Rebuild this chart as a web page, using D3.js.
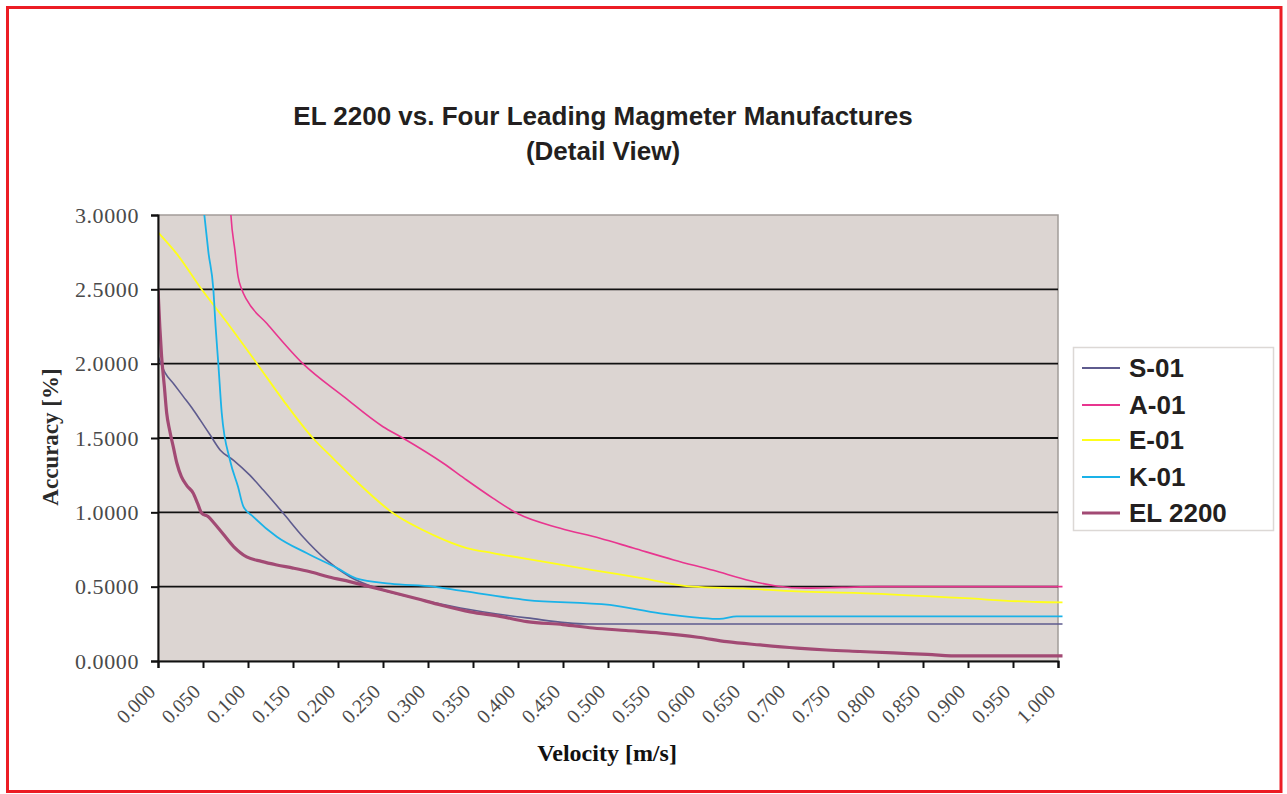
<!DOCTYPE html>
<html>
<head>
<meta charset="utf-8">
<script src="https://cdn.jsdelivr.net/npm/d3@7/dist/d3.min.js"></script>
<style>
  html, body { margin: 0; padding: 0; background: #fff; }
  svg { display: block; }
</style>
</head>
<body>
<svg id="chart" width="1287" height="794"></svg>
<script>
// ---- Data ----
const title = ["EL 2200 vs. Four Leading Magmeter Manufactures", "(Detail View)"];
const seriesNames = ["S-01", "A-01", "E-01", "K-01", "EL 2200"];
const xTicks = [0.000,0.050,0.100,0.150,0.200,0.250,0.300,0.350,0.400,0.450,0.500,0.550,0.600,0.650,0.700,0.750,0.800,0.850,0.900,0.950,1.000];
const yTicks = [0.0, 0.5, 1.0, 1.5, 2.0, 2.5, 3.0];

const S01 = [[0,2.05],[0.0078,1.94],[0.018,1.86],[0.028,1.78],[0.038,1.70],[0.047,1.62],[0.058,1.52],[0.069,1.42],[0.084,1.35],[0.102,1.25],[0.117,1.15],[0.139,0.995],[0.161,0.836],[0.187,0.68],[0.213,0.567],[0.243,0.49],[0.28,0.43],[0.336,0.356],[0.41,0.29],[0.476,0.249],[0.6,0.249],[1.005,0.249]];
const A01 = [[0.0805,3.05],[0.081,3.0],[0.0855,2.76],[0.089,2.585],[0.093,2.5],[0.0985,2.43],[0.121,2.27],[0.161,2.0],[0.206,1.78],[0.25,1.576],[0.272,1.5],[0.317,1.33],[0.34,1.23],[0.372,1.096],[0.4,0.99],[0.447,0.893],[0.491,0.826],[0.528,0.76],[0.573,0.68],[0.617,0.61],[0.658,0.54],[0.687,0.505],[0.72,0.49],[0.76,0.495],[0.8,0.50],[1.005,0.50]];
const E01 = [[0,2.883],[0.0207,2.74],[0.0485,2.5],[0.08,2.25],[0.11,2.0],[0.139,1.755],[0.172,1.5],[0.195,1.36],[0.221,1.205],[0.261,0.995],[0.306,0.847],[0.343,0.76],[0.372,0.726],[0.428,0.668],[0.483,0.612],[0.539,0.556],[0.594,0.50],[0.65,0.488],[0.71,0.468],[0.78,0.457],[0.891,0.424],[0.977,0.397],[1.005,0.395]];
const K01 = [[0.0505,3.05],[0.0515,3.0],[0.056,2.75],[0.0615,2.5],[0.064,2.25],[0.067,2.0],[0.0708,1.67],[0.08,1.35],[0.089,1.17],[0.0948,1.04],[0.106,0.97],[0.132,0.836],[0.165,0.726],[0.199,0.625],[0.22,0.556],[0.258,0.52],[0.306,0.50],[0.336,0.473],[0.41,0.41],[0.502,0.377],[0.558,0.32],[0.602,0.29],[0.624,0.283],[0.643,0.30],[1.005,0.30]];
const EL2200 = [[0,2.5],[0.002,2.25],[0.004,2.05],[0.007,1.85],[0.0096,1.67],[0.013,1.55],[0.017,1.44],[0.021,1.33],[0.026,1.24],[0.032,1.18],[0.039,1.13],[0.044,1.06],[0.0485,0.995],[0.056,0.97],[0.062,0.93],[0.069,0.88],[0.084,0.77],[0.0985,0.70],[0.115,0.67],[0.132,0.646],[0.150,0.625],[0.169,0.60],[0.19,0.565],[0.213,0.534],[0.25,0.478],[0.287,0.42],[0.315,0.375],[0.347,0.33],[0.38,0.30],[0.41,0.265],[0.45,0.245],[0.483,0.222],[0.52,0.205],[0.558,0.188],[0.6,0.16],[0.632,0.13],[0.669,0.108],[0.71,0.087],[0.743,0.074],[0.78,0.064],[0.817,0.054],[0.855,0.044],[0.891,0.034],[0.95,0.034],[1.005,0.034]];

const seriesData = [S01, A01, E01, K01, EL2200];
const seriesColors = ["#5e5b8e", "#e8358f", "#ffff1a", "#1ab2e8", "#a24a74"];
const seriesWidths = [1.6, 1.6, 1.8, 1.8, 3.2];

// ---- Layout ----
const svg = d3.select("#chart");
const plot = { left: 158, right: 1058, top: 215, bottom: 661 };

const x = d3.scaleLinear().domain([0, 1]).range([plot.left, plot.right]);
const y = d3.scaleLinear().domain([0, 3]).range([plot.bottom, plot.top]);

// red frame
svg.append("rect").attr("x", 7.5).attr("y", 7.5).attr("width", 1273.5).attr("height", 784)
  .attr("fill", "#fff").attr("stroke", "#ec1c24").attr("stroke-width", 3);

// title
svg.append("text").attr("x", 603).attr("y", 125).attr("text-anchor", "middle")
  .attr("font-family", "Liberation Sans, Arial, sans-serif").attr("font-weight", "bold")
  .attr("font-size", 26).attr("fill", "#231f20").text(title[0]);
svg.append("text").attr("x", 603).attr("y", 160).attr("text-anchor", "middle")
  .attr("font-family", "Liberation Sans, Arial, sans-serif").attr("font-weight", "bold")
  .attr("font-size", 26).attr("fill", "#231f20").text(title[1]);

// plot background
svg.append("rect").attr("x", plot.left).attr("y", plot.top)
  .attr("width", plot.right - plot.left).attr("height", plot.bottom - plot.top)
  .attr("fill", "#dcd5d2").attr("stroke", "#a29c99").attr("stroke-width", 1.5);

// gridlines
svg.append("g").selectAll("line").data(yTicks.filter(d => d > 0 && d < 3)).join("line")
  .attr("x1", plot.left).attr("x2", plot.right)
  .attr("y1", d => y(d)).attr("y2", d => y(d))
  .attr("stroke", "#111").attr("stroke-width", 1.8);

// clip
svg.append("clipPath").attr("id", "clip").append("rect")
  .attr("x", plot.left).attr("y", plot.top)
  .attr("width", plot.right - plot.left + 6).attr("height", plot.bottom - plot.top + 4);

// series
const line = d3.line().x(d => x(d[0])).y(d => y(d[1])).curve(d3.curveMonotoneX);
const gLines = svg.append("g").attr("clip-path", "url(#clip)");
seriesData.forEach((data, i) => {
  gLines.append("path").datum(data).attr("d", line)
    .attr("fill", "none").attr("stroke", seriesColors[i])
    .attr("stroke-width", seriesWidths[i]).attr("stroke-linejoin", "round");
});

// axes
const yAxis = d3.axisLeft(y).tickValues(yTicks).tickFormat(d3.format(".4f")).tickSize(7).tickPadding(12);
const gy = svg.append("g").attr("transform", `translate(${plot.left},0)`).call(yAxis);
gy.select(".domain").attr("stroke", "#111").attr("stroke-width", 2);
gy.selectAll(".tick line").attr("stroke", "#111").attr("stroke-width", 2);
gy.selectAll(".tick text").attr("font-family", "Liberation Serif, Times New Roman, serif")
  .attr("font-size", 22).attr("letter-spacing", 0.6).attr("fill", "#4a4a4a");

const xAxis = d3.axisBottom(x).tickValues(xTicks).tickFormat(d3.format(".3f")).tickSize(7);
const gx = svg.append("g").attr("transform", `translate(0,${plot.bottom})`).call(xAxis);
gx.select(".domain").attr("stroke", "#111").attr("stroke-width", 2);
gx.selectAll(".tick line").attr("stroke", "#111").attr("stroke-width", 2);
gx.selectAll(".tick text")
  .attr("font-family", "Liberation Serif, Times New Roman, serif")
  .attr("font-size", 20).attr("fill", "#4a4a4a")
  .attr("text-anchor", "end").attr("dy", null).attr("y", null)
  .attr("transform", "translate(-2,32) rotate(-45)");

// axis titles
svg.append("text").attr("transform", "translate(58,437) rotate(-90)").attr("text-anchor", "middle")
  .attr("font-family", "Liberation Serif, Times New Roman, serif").attr("font-weight", "bold")
  .attr("font-size", 23).attr("fill", "#2a2a2a").text("Accuracy [%]");
svg.append("text").attr("x", 607).attr("y", 761).attr("text-anchor", "middle")
  .attr("font-family", "Liberation Serif, Times New Roman, serif").attr("font-weight", "bold")
  .attr("font-size", 24).attr("fill", "#111").text("Velocity [m/s]");

// legend
const lg = svg.append("g");
lg.append("rect").attr("x", 1073.5).attr("y", 347.5).attr("width", 200).attr("height", 183)
  .attr("fill", "#fff").attr("stroke", "#dcd8d5").attr("stroke-width", 1.5);
const legendY = [368, 405, 440, 477, 513];
seriesNames.forEach((name, i) => {
  lg.append("line").attr("x1", 1082).attr("x2", 1120).attr("y1", legendY[i]).attr("y2", legendY[i])
    .attr("stroke", seriesColors[i]).attr("stroke-width", i === 4 ? 3.2 : 2);
  lg.append("text").attr("x", 1129).attr("y", legendY[i] + 9)
    .attr("font-family", "Liberation Sans, Arial, sans-serif").attr("font-weight", "bold")
    .attr("font-size", 26).attr("fill", "#231f20").text(name);
});
</script>
</body>
</html>
